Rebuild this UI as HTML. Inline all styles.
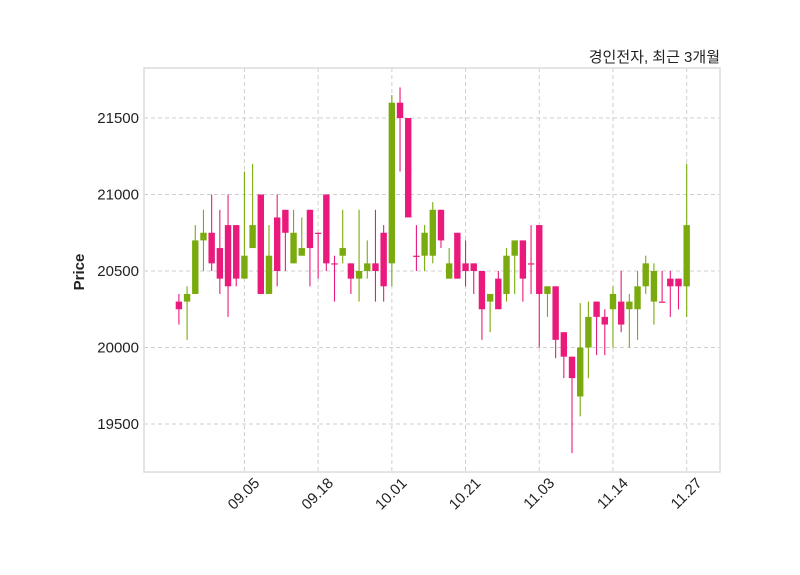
<!DOCTYPE html>
<html><head><meta charset="utf-8"><style>
body{margin:0;background:#fff;}
svg{display:block;font-family:"Liberation Sans","Noto Sans CJK KR",sans-serif;}
</style></head><body>
<svg id="chart" width="800" height="575" viewBox="0 0 800 575" xmlns="http://www.w3.org/2000/svg">
<rect x="0" y="0" width="800" height="575" fill="#fff"/>
<g id="grid"></g>
<g id="candles"></g>
<rect x="144" y="68" width="576" height="404" fill="none" stroke="#dcdcdc" stroke-width="1.5"/>
<g id="axes"></g>
<text x="720" y="62" text-anchor="end" font-size="15" fill="#222">경인전자, 최근 3개월</text>
<text x="84" y="272" text-anchor="middle" font-size="15" font-weight="bold" fill="#222" transform="rotate(-90 84 272)">Price</text>
</svg>
<script>
const opens=[20300,20300,20350,20700,20750,20650,20800,20800,20450,20650,21000,20350,20850,20900,20550,20600,20900,20750,21000,20550,20600,20550,20450,20500,20550,20750,20550,21600,21500,20600,20600,20600,20900,20450,20750,20550,20550,20500,20300,20450,20350,20600,20700,20550,20800,20350,20400,20100,19940,19680,20000,20300,20200,20250,20300,20250,20250,20400,20300,20300,20450,20450,20400];
const highs=[20350,20400,20800,20900,21000,20900,21000,20800,21150,21200,21000,20800,21000,20900,20900,20850,20900,20750,21000,20600,20900,20550,20900,20700,20900,20800,21650,21700,21500,20800,20800,20950,20900,20650,20750,20700,20550,20500,20350,20500,20650,20700,20700,20800,20800,20400,20400,20100,19940,20290,20300,20300,20250,20400,20500,20350,20500,20600,20550,20500,20500,20450,21200];
const lows=[20150,20050,20350,20500,20500,20350,20200,20400,20450,20650,20350,20350,20400,20500,20550,20600,20400,20450,20500,20300,20550,20350,20300,20450,20300,20300,20400,21150,20850,20500,20500,20550,20650,20450,20450,20400,20350,20050,20100,20250,20300,20350,20300,20350,20000,20200,19930,19800,19310,19550,19800,19950,19950,20000,20100,20000,20050,20350,20150,20300,20200,20250,20200];
const closes=[20250,20350,20700,20750,20550,20450,20400,20450,20600,20800,20350,20600,20500,20750,20750,20650,20650,20750,20550,20550,20650,20450,20500,20550,20500,20400,21600,21500,20850,20600,20750,20900,20700,20550,20450,20500,20500,20250,20350,20250,20600,20700,20450,20550,20350,20400,20050,19940,19800,20000,20200,20200,20150,20350,20150,20300,20400,20550,20500,20300,20400,20400,20800];
const yTicks=[19500,20000,20500,21000,21500];
const xTickIdx=[8,17,26,35,44,53,62];
const xTickLabels=["09.05","09.18","10.01","10.21","11.03","11.14","11.27"];

const NS="http://www.w3.org/2000/svg";
function xS(i){return 178.9+8.19*i;}
function yS(p){return 118+(21500-p)*0.153;}
function mk(tag,attrs,parent){const e=document.createElementNS(NS,tag);for(const k in attrs)e.setAttribute(k,attrs[k]);parent.appendChild(e);return e;}
const grid=document.getElementById('grid'),cg=document.getElementById('candles'),ax=document.getElementById('axes');
yTicks.forEach(v=>{
  const y=yS(v);
  const l=mk('line',{x1:144,x2:720,y1:y,y2:y,stroke:'#cfcfcf','stroke-dasharray':'4,3','stroke-width':1},grid);
  
  
  const t=mk('text',{x:139,y:y+5,'text-anchor':'end','font-size':15,fill:'#222'},ax);
  t.textContent=v;
  
  
});
xTickIdx.forEach((idx,k)=>{
  const x=xS(idx);
  const l=mk('line',{x1:x,x2:x,y1:68,y2:472,stroke:'#cfcfcf','stroke-dasharray':'4,3','stroke-width':1},grid);
  
  
  const ax0=x+16;
  const t=mk('text',{x:ax0,y:484,'text-anchor':'end','font-size':15,fill:'#222',transform:`rotate(-45 ${ax0} 484)`},ax);
  t.textContent=xTickLabels[k];
  
  
});
opens.forEach((o,i)=>{
  const c=closes[i],x=xS(i);
  const col=c>o?'#7aab0e':'#ea1a7c';
  const g=mk('g',{},cg);
  
  
  mk('line',{x1:x,x2:x,y1:yS(highs[i]),y2:yS(lows[i]),stroke:col,'stroke-width':1.1},g);
  const top=yS(Math.max(o,c)),bot=yS(Math.min(o,c));
  mk('rect',{x:x-3.2,y:top,width:6.4,height:Math.max(bot-top,1.2),fill:col},g);
});
</script>
</body></html>
